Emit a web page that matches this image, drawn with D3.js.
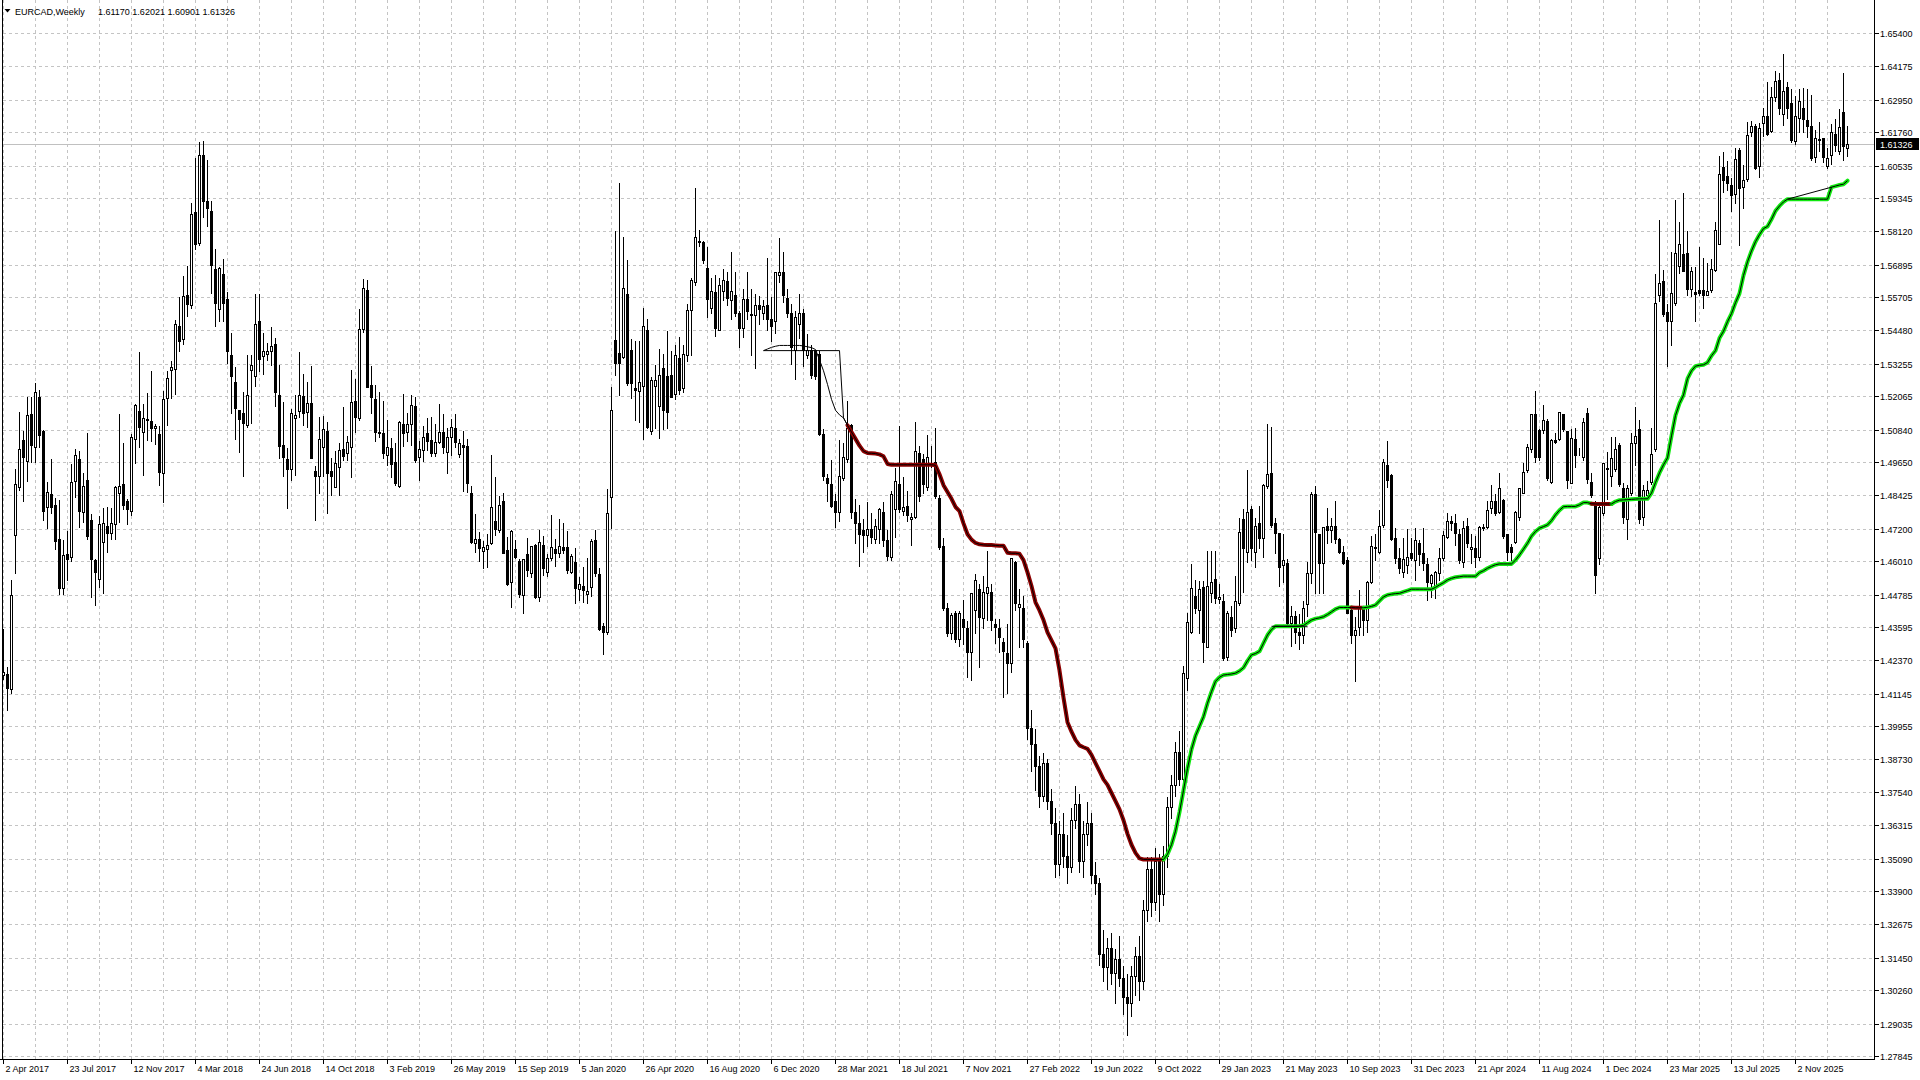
<!DOCTYPE html>
<html><head><meta charset="utf-8">
<script src="https://cdn.jsdelivr.net/npm/d3@7/dist/d3.min.js"></script>
<style>
html,body{margin:0;padding:0;background:#fff;overflow:hidden}
svg{display:block}
text{font-family:"Liberation Sans",Arial,sans-serif;font-size:9px;fill:#000}
</style>
</head><body>
<svg id="chart" width="1920" height="1080"></svg>
<script>
// ---------------- DATA ----------------
const symbolTitle = "EURCAD,Weekly";
const lastBarText = ["1.61170", "1.62021", "1.60901", "1.61326"];
const currentPrice = 1.61326;

const priceTicks = ["1.65400","1.64175","1.62950","1.61760","1.60535","1.59345","1.58120","1.56895","1.55705","1.54480","1.53255","1.52065","1.50840","1.49650","1.48425","1.47200","1.46010","1.44785","1.43595","1.42370","1.41145","1.39955","1.38730","1.37540","1.36315","1.35090","1.33900","1.32675","1.31450","1.30260","1.29035","1.27845"];

const dateTickBars = [0,16,32,48,64,80,96,112,128,144,160,176,192,208,224,240,256,272,288,304,320,336,352,368,384,400,416,432,448];
const dateTickLabels = ["2 Apr 2017","23 Jul 2017","12 Nov 2017","4 Mar 2018","24 Jun 2018","14 Oct 2018","3 Feb 2019","26 May 2019","15 Sep 2019","5 Jan 2020","26 Apr 2020","16 Aug 2020","6 Dec 2020","28 Mar 2021","18 Jul 2021","7 Nov 2021","27 Feb 2022","19 Jun 2022","9 Oct 2022","29 Jan 2023","21 May 2023","10 Sep 2023","31 Dec 2023","21 Apr 2024","11 Aug 2024","1 Dec 2024","23 Mar 2025","13 Jul 2025","2 Nov 2025"];

const openP = [
1.4185,1.4188,1.4132,1.4697,1.4873,1.5046,1.4969,1.5141,1.5020,1.5204,
1.5079,1.4800,1.4848,1.4807,1.4683,1.4503,1.4627,1.4616,1.4896,1.4976,
1.4782,1.4899,1.4752,1.4605,1.4536,1.4672,1.4730,1.4705,1.4738,1.4851,
1.4884,1.4822,1.4785,1.5050,1.5154,1.5074,1.5118,1.5116,1.5091,1.5067,
1.4926,1.5200,1.5302,1.5306,1.5463,1.5415,1.5577,1.5540,1.5882,1.5769,
1.6093,1.5924,1.5886,1.5674,1.5528,1.5657,1.5563,1.5358,1.5257,1.5155,
1.5144,1.5102,1.5302,1.5282,1.5481,1.5355,1.5362,1.5373,1.5400,1.5210,
1.5029,1.4976,1.4938,1.5127,1.5151,1.5207,1.5147,1.5182,1.4931,1.4915,
1.5021,1.5079,1.4932,1.4874,1.4948,1.5012,1.4997,1.5019,1.5189,1.5125,
1.5452,1.5597,1.5248,1.5195,1.5070,1.5070,1.4991,1.5015,1.4964,1.4877,
1.5103,1.5076,1.5105,1.5171,1.4982,1.5009,1.5070,1.5046,1.4997,1.5040,
1.5076,1.5003,1.5058,1.5089,1.4993,1.5026,1.5024,1.4850,1.4666,1.4681,
1.4640,1.4644,1.4669,1.4750,1.4716,1.4822,1.4642,1.4526,1.4644,1.4603,
1.4477,1.4626,1.4556,1.4660,1.4468,1.4660,1.4562,1.4612,1.4645,1.4630,
1.4652,1.4654,1.4562,1.4599,1.4498,1.4510,1.4480,1.4507,1.4679,1.4554,
1.4363,1.4342,1.4835,1.5413,1.5367,1.5352,1.5581,1.5376,1.5236,1.5227,
1.5244,1.5450,1.5079,1.5244,1.5172,1.5312,1.5279,1.5285,1.5213,1.5347,
1.5238,1.5357,1.5522,1.5625,1.5776,1.5773,1.5677,1.5532,1.5588,1.5450,
1.5594,1.5629,1.5559,1.5580,1.5512,1.5456,1.5563,1.5508,1.5506,1.5543,
1.5512,1.5543,1.5491,1.5481,1.5650,1.5662,1.5567,1.5512,1.5378,1.5471,
1.5512,1.5357,1.5378,1.5378,1.5361,1.5069,1.4908,1.4883,1.4822,1.4780,
1.4908,1.4976,1.5100,1.4780,1.4743,1.4714,1.4698,1.4718,1.4681,1.4718,
1.4780,1.4677,1.4616,1.4791,1.4883,1.4785,1.4805,1.4756,1.4764,1.4997,
1.4976,1.4873,1.4976,1.4966,1.4832,1.4657,1.4430,1.4337,1.4410,1.4317,
1.4389,1.4354,1.4269,1.4422,1.4498,1.4391,1.4483,1.4489,1.4370,1.4354,
1.4306,1.4263,1.4226,1.4599,1.4434,1.4428,1.4300,1.3990,1.3930,1.3850,
1.3740,1.3860,1.3720,1.3640,1.3490,1.3600,1.3520,1.3480,1.3650,1.3710,
1.3500,1.3600,1.3640,1.3450,1.3420,1.3160,1.3110,1.3180,1.3090,1.3140,
1.3070,1.3000,1.2980,1.3080,1.3150,1.3060,1.3320,1.3470,1.3350,1.3500,
1.3380,1.3520,1.3700,1.3780,1.3900,1.3800,1.4171,1.4342,1.4473,1.4420,
1.4507,1.4287,1.4483,1.4534,1.4461,1.4455,1.4250,1.4397,1.4355,1.4446,
1.4755,1.4636,1.4791,1.4636,1.4740,1.4685,1.4877,1.4923,1.4740,1.4703,
1.4587,1.4593,1.4373,1.4400,1.4340,1.4330,1.4445,1.4556,1.4848,1.4701,
1.4596,1.4730,1.4715,1.4731,1.4681,1.4636,1.4605,1.4420,1.4330,1.4360,
1.4428,1.4385,1.4526,1.4654,1.4636,1.4734,1.4954,1.4917,1.4685,1.4611,
1.4562,1.4587,1.4630,1.4605,1.4666,1.4630,1.4591,1.4520,1.4507,1.4559,
1.4611,1.4691,1.4750,1.4740,1.4701,1.4599,1.4730,1.4644,1.4648,1.4618,
1.4728,1.4725,1.4795,1.4823,1.4783,1.4826,1.4701,1.4654,1.4673,1.4762,
1.4852,1.4936,1.5012,1.5140,1.5083,1.5083,1.5117,1.4893,1.5046,1.5048,
1.5140,1.5080,1.4889,1.5048,1.4997,1.4985,1.5144,1.4893,1.4816,1.4611,
1.4777,1.4942,1.4912,1.4939,1.5027,1.4871,1.4756,1.4851,1.5034,1.5085,
1.4763,1.4844,1.4891,1.5014,1.5577,1.5631,1.5516,1.5482,1.5547,1.5686,
1.5730,1.5733,1.5601,1.5591,1.5596,1.5597,1.5580,1.5597,1.5669,1.5767,
1.6049,1.6014,1.5982,1.5950,1.6109,1.5974,1.6005,1.6175,1.6199,1.6053,
1.6209,1.6236,1.6182,1.6304,1.6368,1.6243,1.6340,1.6283,1.6145,1.6229,
1.6263,1.6222,1.6199,1.6086,1.6152,1.6154,1.6053,1.6093,1.6171,1.6107,
1.6250,1.6117];

const highP = [
1.4357,1.4217,1.4536,1.4943,1.5152,1.5083,1.5208,1.5208,1.5259,1.5233,
1.5086,1.4895,1.4980,1.4837,1.4829,1.4683,1.4716,1.4961,1.5017,1.5009,
1.4929,1.5075,1.4778,1.4613,1.4771,1.4800,1.4804,1.4800,1.4881,1.5145,
1.5039,1.4833,1.5072,1.5182,1.5372,1.5183,1.5222,1.5302,1.5109,1.5102,
1.5228,1.5302,1.5341,1.5491,1.5573,1.5650,1.5689,1.5920,1.6083,1.6142,
1.6149,1.6079,1.5928,1.5751,1.5684,1.5713,1.5594,1.5442,1.5316,1.5161,
1.5226,1.5362,1.5362,1.5585,1.5585,1.5442,1.5404,1.5465,1.5425,1.5324,
1.5189,1.5021,1.5165,1.5215,1.5372,1.5292,1.5264,1.5320,1.4955,1.5133,
1.5137,1.5117,1.4985,1.5009,1.5040,1.5171,1.5064,1.5305,1.5272,1.5529,
1.5639,1.5636,1.5321,1.5250,1.5226,1.5193,1.5122,1.5058,1.5040,1.5119,
1.5220,1.5150,1.5215,1.5209,1.5046,1.5101,1.5131,1.5134,1.5110,1.5181,
1.5146,1.5095,1.5125,1.5146,1.5052,1.5083,1.5052,1.4881,1.4777,1.4712,
1.4679,1.4703,1.4995,1.4914,1.4844,1.4856,1.4693,1.4718,1.4681,1.4612,
1.4612,1.4689,1.4660,1.4667,1.4718,1.4697,1.4630,1.4773,1.4685,1.4758,
1.4744,1.4715,1.4632,1.4652,1.4546,1.4583,1.4615,1.4685,1.4718,1.4581,
1.4379,1.4868,1.5244,1.5817,1.5994,1.5795,1.5709,1.5419,1.5413,1.5413,
1.5535,1.5493,1.5279,1.5326,1.5382,1.5367,1.5450,1.5378,1.5398,1.5429,
1.5398,1.5547,1.5646,1.5975,1.5821,1.5780,1.5759,1.5646,1.5656,1.5646,
1.5677,1.5666,1.5738,1.5666,1.5522,1.5604,1.5666,1.5604,1.5584,1.5580,
1.5563,1.5718,1.5573,1.5666,1.5790,1.5738,1.5604,1.5547,1.5522,1.5584,
1.5532,1.5440,1.5398,1.5378,1.5378,1.5089,1.4925,1.4976,1.4853,1.5048,
1.5038,1.5192,1.5110,1.4832,1.4811,1.4760,1.4822,1.4780,1.4760,1.4801,
1.4822,1.4718,1.4863,1.4945,1.5100,1.4914,1.4863,1.4780,1.5114,1.5028,
1.4997,1.5069,1.5028,1.5094,1.4846,1.4688,1.4451,1.4414,1.4420,1.4420,
1.4461,1.4385,1.4489,1.4556,1.4520,1.4550,1.4642,1.4520,1.4391,1.4391,
1.4324,1.4373,1.4617,1.4605,1.4501,1.4477,1.4312,1.4060,1.3990,1.3890,
1.3900,1.3880,1.3770,1.3700,1.3650,1.3680,1.3600,1.3700,1.3780,1.3750,
1.3650,1.3720,1.3680,1.3500,1.3440,1.3250,1.3220,1.3240,1.3180,1.3230,
1.3120,1.3090,1.3120,1.3190,1.3230,1.3360,1.3520,1.3520,1.3550,1.3530,
1.3560,1.3740,1.3820,1.3940,1.3980,1.4220,1.4416,1.4593,1.4534,1.4532,
1.4532,1.4642,1.4642,1.4642,1.4520,1.4485,1.4422,1.4440,1.4550,1.4764,
1.4795,1.4938,1.4807,1.4764,1.4807,1.4887,1.5109,1.5097,1.4764,1.4709,
1.4703,1.4611,1.4440,1.4420,1.4410,1.4460,1.4600,1.4860,1.4881,1.4703,
1.4730,1.4801,1.4764,1.4826,1.4691,1.4660,1.4620,1.4430,1.4400,1.4498,
1.4440,1.4532,1.4697,1.4703,1.4791,1.4979,1.5046,1.4923,1.4728,1.4654,
1.4691,1.4722,1.4691,1.4728,1.4681,1.4728,1.4618,1.4556,1.4569,1.4654,
1.4715,1.4783,1.4771,1.4777,1.4722,1.4752,1.4764,1.4703,1.4697,1.4734,
1.4740,1.4826,1.4884,1.4850,1.4930,1.4832,1.4703,1.4666,1.4789,1.4875,
1.4966,1.5034,1.5144,1.5229,1.5089,1.5178,1.5125,1.5052,1.5076,1.5150,
1.5144,1.5083,1.5089,1.5095,1.5021,1.5131,1.5168,1.4930,1.4826,1.4808,
1.4963,1.5007,1.5061,1.5061,1.5037,1.4891,1.4885,1.5075,1.5170,1.5122,
1.4885,1.4898,1.5095,1.5658,1.5856,1.5672,1.5550,1.5740,1.5930,1.5849,
1.5957,1.5815,1.5686,1.5686,1.5757,1.5716,1.5699,1.5713,1.5849,1.6093,
1.6107,1.6073,1.6012,1.6121,1.6121,1.6059,1.6218,1.6222,1.6209,1.6213,
1.6267,1.6362,1.6345,1.6406,1.6395,1.6467,1.6362,1.6338,1.6311,1.6338,
1.6340,1.6338,1.6317,1.6188,1.6216,1.6158,1.6121,1.6209,1.6229,1.6263,
1.6395,1.62021];

const lowP = [
1.4170,1.4055,1.4117,1.4558,1.4862,1.4822,1.4895,1.4965,1.4965,1.5020,
1.4752,1.4723,1.4778,1.4646,1.4481,1.4481,1.4532,1.4602,1.4837,1.4727,
1.4745,1.4683,1.4470,1.4441,1.4506,1.4484,1.4635,1.4683,1.4683,1.4745,
1.4793,1.4738,1.4771,1.4961,1.5020,1.4919,1.5046,1.5043,1.5032,1.4880,
1.4817,1.5102,1.5200,1.5215,1.5373,1.5397,1.5502,1.5531,1.5748,1.5762,
1.5864,1.5833,1.5587,1.5463,1.5481,1.5481,1.5330,1.5144,1.5049,1.5000,
1.4915,1.5095,1.5109,1.5243,1.5299,1.5288,1.5341,1.5320,1.5170,1.4978,
1.4915,1.4797,1.4898,1.4919,1.5130,1.5102,1.5095,1.4978,1.4751,1.4852,
1.4914,1.4777,1.4844,1.4874,1.4844,1.4972,1.4972,1.4911,1.5076,1.5119,
1.5443,1.5239,1.5146,1.5043,1.5058,1.4979,1.4954,1.4911,1.4881,1.4874,
1.5025,1.5043,1.5028,1.4966,1.4899,1.4970,1.5009,1.4987,1.4987,1.5034,
1.4997,1.4924,1.4991,1.5021,1.4982,1.4860,1.4856,1.4666,1.4636,1.4603,
1.4575,1.4578,1.4664,1.4697,1.4709,1.4630,1.4514,1.4432,1.4612,1.4468,
1.4412,1.4547,1.4542,1.4465,1.4456,1.4550,1.4547,1.4606,1.4583,1.4618,
1.4630,1.4556,1.4556,1.4448,1.4459,1.4452,1.4448,1.4473,1.4547,1.4349,
1.4260,1.4334,1.4722,1.5285,1.5211,1.5346,1.5248,1.5199,1.5119,1.5113,
1.5048,1.5089,1.5069,1.5089,1.5052,1.5085,1.5089,1.5203,1.5197,1.5213,
1.5223,1.5337,1.5357,1.5615,1.5759,1.5697,1.5497,1.5512,1.5429,1.5450,
1.5559,1.5543,1.5491,1.5501,1.5388,1.5423,1.5491,1.5357,1.5312,1.5471,
1.5491,1.5450,1.5409,1.5440,1.5625,1.5553,1.5497,1.5326,1.5271,1.5419,
1.5316,1.5347,1.5275,1.5271,1.5065,1.4900,1.4822,1.4801,1.4725,1.4750,
1.4898,1.4966,1.4760,1.4667,1.4585,1.4636,1.4657,1.4667,1.4667,1.4667,
1.4657,1.4605,1.4605,1.4688,1.4780,1.4770,1.4749,1.4661,1.4760,1.4822,
1.4852,1.4863,1.4945,1.4832,1.4647,1.4420,1.4327,1.4317,1.4306,1.4290,
1.4296,1.4177,1.4165,1.4336,1.4214,1.4354,1.4385,1.4348,1.4299,1.4269,
1.4104,1.4116,1.4195,1.4422,1.4287,1.4287,1.3950,1.3830,1.3760,1.3700,
1.3720,1.3690,1.3600,1.3440,1.3450,1.3480,1.3420,1.3460,1.3620,1.3460,
1.3440,1.3560,1.3420,1.3380,1.3120,1.3060,1.3030,1.3050,1.2980,1.3040,
1.2940,1.2860,1.2930,1.3010,1.2990,1.3030,1.3280,1.3300,1.3320,1.3280,
1.3340,1.3480,1.3660,1.3740,1.3780,1.3780,1.4128,1.4336,1.4409,1.4336,
1.4232,1.4287,1.4452,1.4446,1.4446,1.4238,1.4238,1.4326,1.4342,1.4440,
1.4489,1.4599,1.4605,1.4581,1.4648,1.4615,1.4868,1.4728,1.4630,1.4510,
1.4526,1.4367,1.4290,1.4300,1.4280,1.4300,1.4400,1.4520,1.4483,1.4483,
1.4483,1.4666,1.4673,1.4666,1.4630,1.4591,1.4410,1.4300,1.4160,1.4330,
1.4330,1.4340,1.4520,1.4605,1.4630,1.4728,1.4875,1.4679,1.4593,1.4556,
1.4544,1.4556,1.4605,1.4532,1.4587,1.4569,1.4459,1.4471,1.4465,1.4532,
1.4605,1.4685,1.4715,1.4660,1.4593,1.4581,1.4654,1.4593,1.4581,1.4605,
1.4715,1.4722,1.4777,1.4771,1.4777,1.4685,1.4605,1.4605,1.4666,1.4752,
1.4850,1.4930,1.5003,1.4966,1.4972,1.5070,1.4899,1.4887,1.5034,1.5046,
1.5080,1.4868,1.4887,1.4948,1.4991,1.4972,1.4887,1.4838,1.4483,1.4592,
1.4771,1.4830,1.4878,1.4932,1.4878,1.4742,1.4681,1.4844,1.4953,1.4742,
1.4735,1.4830,1.4885,1.5007,1.5557,1.5502,1.5319,1.5394,1.5543,1.5658,
1.5666,1.5577,1.5574,1.5482,1.5577,1.5530,1.5577,1.5591,1.5665,1.5764,
1.5957,1.5964,1.5887,1.5917,1.5761,1.5896,1.5998,1.6161,1.6039,1.6012,
1.6161,1.6164,1.6175,1.6290,1.6243,1.6202,1.6229,1.6141,1.6134,1.6175,
1.6175,1.6158,1.6073,1.6066,1.6107,1.6066,1.6046,1.6059,1.6107,1.6096,
1.6073,1.60901];

const closeP = [
1.4195,1.4135,1.4477,1.4884,1.5013,1.4984,1.5138,1.5028,1.5222,1.5064,
1.4785,1.4855,1.4800,1.4675,1.4503,1.4624,1.4609,1.4892,1.4991,1.4785,
1.4877,1.4694,1.4609,1.4562,1.4737,1.4741,1.4705,1.4741,1.4873,1.4877,
1.4807,1.4793,1.5057,1.5174,1.5095,1.5127,1.5124,1.5091,1.5099,1.4929,
1.5196,1.5273,1.5313,1.5470,1.5408,1.5573,1.5545,1.5875,1.5765,1.6093,
1.5924,1.5896,1.5688,1.5548,1.5678,1.5548,1.5372,1.5281,1.5162,1.5122,
1.5109,1.5210,1.5320,1.5470,1.5344,1.5373,1.5372,1.5390,1.5222,1.5025,
1.4983,1.4940,1.5144,1.5137,1.5210,1.5144,1.5182,1.4978,1.4912,1.5049,
1.5085,1.4926,1.4914,1.4960,1.5009,1.4987,1.5040,1.5184,1.5131,1.5452,
1.5603,1.5239,1.5205,1.5076,1.5076,1.4999,1.5021,1.4957,1.4887,1.5113,
1.5070,1.5105,1.5174,1.4972,1.5012,1.5058,1.5042,1.4999,1.5040,1.5076,
1.5021,1.5058,1.5095,1.5040,1.5034,1.5022,1.4889,1.4673,1.4681,1.4648,
1.4652,1.4660,1.4799,1.4718,1.4807,1.4632,1.4517,1.4713,1.4618,1.4481,
1.4608,1.4569,1.4657,1.4468,1.4673,1.4575,1.4612,1.4654,1.4630,1.4658,
1.4642,1.4569,1.4620,1.4501,1.4516,1.4495,1.4493,1.4676,1.4556,1.4351,
1.4342,1.4779,1.5156,1.5327,1.5327,1.5603,1.5254,1.5254,1.5230,1.5260,
1.5464,1.5095,1.5265,1.5265,1.5285,1.5155,1.5147,1.5203,1.5357,1.5230,
1.5361,1.5522,1.5635,1.5790,1.5773,1.5707,1.5563,1.5594,1.5456,1.5615,
1.5635,1.5567,1.5594,1.5512,1.5456,1.5563,1.5518,1.5506,1.5543,1.5528,
1.5538,1.5491,1.5464,1.5662,1.5662,1.5580,1.5512,1.5388,1.5497,1.5512,
1.5378,1.5378,1.5285,1.5279,1.5069,1.4914,1.4888,1.4805,1.4780,1.4914,
1.4982,1.5089,1.4780,1.4743,1.4702,1.4698,1.4718,1.4688,1.4729,1.4791,
1.4677,1.4620,1.4846,1.4894,1.4791,1.4801,1.4770,1.4764,1.5007,1.4842,
1.4883,1.4982,1.4976,1.4842,1.4653,1.4430,1.4337,1.4403,1.4317,1.4410,
1.4358,1.4269,1.4483,1.4532,1.4397,1.4489,1.4507,1.4385,1.4361,1.4321,
1.4272,1.4229,1.4611,1.4446,1.4444,1.4314,1.3990,1.3930,1.3850,1.3740,
1.3860,1.3720,1.3640,1.3490,1.3600,1.3520,1.3480,1.3650,1.3710,1.3500,
1.3600,1.3640,1.3450,1.3420,1.3160,1.3110,1.3180,1.3090,1.3140,1.3070,
1.3000,1.2980,1.3080,1.3150,1.3060,1.3320,1.3470,1.3350,1.3500,1.3380,
1.3520,1.3700,1.3780,1.3900,1.3800,1.4190,1.4377,1.4501,1.4428,1.4498,
1.4306,1.4510,1.4526,1.4465,1.4471,1.4244,1.4412,1.4348,1.4456,1.4709,
1.4648,1.4783,1.4648,1.4730,1.4685,1.4881,1.4920,1.4734,1.4703,1.4581,
1.4605,1.4373,1.4400,1.4340,1.4330,1.4430,1.4558,1.4848,1.4709,1.4596,
1.4725,1.4715,1.4731,1.4681,1.4636,1.4593,1.4410,1.4330,1.4350,1.4428,
1.4385,1.4526,1.4656,1.4648,1.4731,1.4966,1.4899,1.4681,1.4611,1.4575,
1.4608,1.4618,1.4611,1.4679,1.4627,1.4593,1.4526,1.4550,1.4562,1.4611,
1.4697,1.4749,1.4740,1.4703,1.4605,1.4722,1.4669,1.4654,1.4618,1.4728,
1.4722,1.4789,1.4823,1.4779,1.4868,1.4693,1.4636,1.4636,1.4783,1.4868,
1.4930,1.5021,1.5140,1.4985,1.4985,1.5119,1.4905,1.5046,1.5040,1.5147,
1.5085,1.4899,1.5052,1.4991,1.4997,1.5111,1.4901,1.4844,1.4550,1.4801,
1.4960,1.4940,1.4980,1.5014,1.4885,1.4763,1.4871,1.5034,1.5061,1.4756,
1.4864,1.4864,1.4995,1.5547,1.5621,1.5509,1.5482,1.5584,1.5733,1.5764,
1.5666,1.5601,1.5666,1.5583,1.5585,1.5577,1.5594,1.5675,1.5815,1.6022,
1.6000,1.5991,1.5944,1.6077,1.5971,1.6002,1.6164,1.6199,1.6046,1.6191,
1.6236,1.6168,1.6304,1.6365,1.6263,1.6327,1.6263,1.6148,1.6236,1.6290,
1.6225,1.6199,1.6080,1.6154,1.6148,1.6086,1.6082,1.6175,1.6130,1.6195,
1.6127,1.61326];

// trailing indicator (thick line), one value per bar starting at bar 211
const lineStartBar = 211;
const lineVals = [
1.5100,1.5075,1.5050,1.5025,1.5005,1.4998,1.4997,1.4996,1.4993,1.4986,
1.4958,1.4955,1.4955,1.4955,1.4955,1.4955,1.4955,1.4955,1.4955,1.4955,
1.4955,1.4955,1.4953,1.4920,1.4880,1.4855,1.4830,1.4800,1.4785,1.4740,
1.4700,1.4680,1.4668,1.4663,1.4661,1.4660,1.4660,1.4659,1.4658,1.4658,
1.4632,1.4630,1.4630,1.4628,1.4605,1.4560,1.4510,1.4450,1.4420,1.4385,
1.4340,1.4310,1.4281,1.4200,1.4100,1.4010,1.3975,1.3945,1.3925,1.3918,
1.3912,1.3890,1.3860,1.3830,1.3800,1.3780,1.3750,1.3720,1.3690,1.3650,
1.3600,1.3560,1.3530,1.3510,1.3506,1.3506,1.3506,1.3506,1.3506,1.3506,
1.3525,1.3560,1.3610,1.3680,1.3760,1.3840,1.3910,1.3960,1.3995,1.4030,
1.4080,1.4122,1.4160,1.4175,1.4183,1.4185,1.4187,1.4190,1.4198,1.4210,
1.4235,1.4257,1.4262,1.4270,1.4300,1.4330,1.4350,1.4362,1.4362,1.4362,
1.4362,1.4362,1.4362,1.4363,1.4365,1.4375,1.4385,1.4390,1.4393,1.4397,
1.4405,1.4415,1.4425,1.4431,1.4431,1.4431,1.4431,1.4430,1.4430,1.4430,
1.4432,1.4435,1.4440,1.4455,1.4470,1.4477,1.4480,1.4482,1.4483,1.4488,
1.4493,1.4498,1.4498,1.4498,1.4498,1.4498,1.4498,1.4505,1.4514,1.4522,
1.4532,1.4538,1.4542,1.4544,1.4546,1.4546,1.4546,1.4546,1.4559,1.4566,
1.4575,1.4582,1.4588,1.4591,1.4591,1.4591,1.4591,1.4605,1.4624,1.4645,
1.4667,1.4693,1.4710,1.4722,1.4728,1.4734,1.4750,1.4771,1.4788,1.4801,
1.4802,1.4802,1.4802,1.4808,1.4816,1.4816,1.4812,1.4811,1.4811,1.4811,
1.4811,1.4811,1.4820,1.4825,1.4826,1.4827,1.4828,1.4829,1.4830,1.4830,
1.4830,1.4851,1.4890,1.4925,1.4955,1.4980,1.5061,1.5136,1.5180,1.5211,
1.5271,1.5300,1.5317,1.5320,1.5322,1.5330,1.5355,1.5374,1.5420,1.5445,
1.5480,1.5510,1.5550,1.5584,1.5650,1.5700,1.5740,1.5774,1.5800,1.5822,
1.5830,1.5856,1.5887,1.5905,1.5920,1.5930,1.5930,1.5930,1.5930,1.5930,
1.5930,1.5930,1.5930,1.5930,1.5930,1.5930,1.5974,1.5978,1.5982,1.5985,
1.5998];

// trend direction ranges of the indicator (-1 down, +1 up)
const trendFrom = [211, 290, 337, 340, 397, 402];
const trendTo   = [290, 337, 340, 397, 402, 461];
const trendDir  = [-1, 1, -1, 1, -1, 1];

// thin black lines where they leave the thick line
const thinBars = [
  [190,191,192,193,194,195,196,197,198,199,200,201,202,203,204,205,206,207,208,209,210,211],
  [190,209,210,211],
  [317,326],
  [446,457]
];
const thinVals = [
  [1.5374,1.5380,1.5386,1.5390,1.5393,1.5393,1.5393,1.5393,1.5393,1.5393,1.5391,1.5388,1.5385,1.5378,1.5340,1.5300,1.5250,1.5195,1.5155,1.5138,1.5127,1.5100],
  [1.5374,1.5374,1.5127,1.5100],
  [1.4362,1.4362],
  [1.5930,1.5974]
];

// ---------------- DRAW ----------------
const W = 1920, H = 1080;
const plotRight = 1874.5, axisBottom = 1059.5;
const svg = d3.select("#chart");
const nBars = closeP.length;

const xs = d3.scaleLinear().domain([0, nBars - 1]).range([3.5, 3.5 + 4 * (nBars - 1)]);
const ys = d3.scaleLinear().domain([1.27845, 1.654]).range([1056, 33]);
const py = v => Math.round(ys(v)) + 0.5;

svg.append("rect").attr("width", W).attr("height", H).attr("fill", "#fff");

// grid
const grid = svg.append("g").attr("stroke", "#c4c4c4").attr("stroke-dasharray", "3,3")
  .attr("shape-rendering", "crispEdges").attr("stroke-width", 1);
grid.selectAll("line.v").data(d3.range(0, nBars, 8)).join("line")
  .attr("x1", d => xs(d)).attr("x2", d => xs(d)).attr("y1", 0).attr("y2", axisBottom);
grid.selectAll("line.h").data(priceTicks).join("line")
  .attr("x1", 3).attr("x2", plotRight).attr("y1", d => py(+d)).attr("y2", d => py(+d));

// current price line
svg.append("line").attr("x1", 3).attr("x2", plotRight)
  .attr("y1", py(currentPrice)).attr("y2", py(currentPrice))
  .attr("stroke", "#c0c0c0").attr("shape-rendering", "crispEdges");

// candles
const cg = svg.append("g").attr("shape-rendering", "crispEdges");
const idx = d3.range(nBars);
cg.selectAll("line.w").data(idx).join("line")
  .attr("x1", i => xs(i)).attr("x2", i => xs(i))
  .attr("y1", i => py(highP[i])).attr("y2", i => py(lowP[i]))
  .attr("stroke", "#000").attr("stroke-width", 1);
cg.selectAll("rect.b").data(idx).join("rect")
  .attr("x", i => xs(i) - 1)
  .attr("y", i => py(Math.max(openP[i], closeP[i])))
  .attr("width", 2)
  .attr("height", i => py(Math.min(openP[i], closeP[i])) - py(Math.max(openP[i], closeP[i])))
  .attr("fill", i => closeP[i] >= openP[i] ? "#fff" : "#000")
  .attr("stroke", "#000").attr("stroke-width", 1);

// indicator
const ind = svg.append("g");
const lineGen = d3.line().x(d => xs(d[0])).y(d => ys(d[1]));
const linePts = lineVals.map((v, k) => [lineStartBar + k, v]);
trendFrom.forEach((f, s) => {
  const pts = linePts.filter(p => p[0] >= f && p[0] <= trendTo[s]);
  ind.append("path").attr("d", lineGen(pts)).attr("fill", "none")
    .attr("stroke", trendDir[s] > 0 ? "#10e810" : "#8c0000")
    .attr("stroke-width", 4).attr("stroke-linejoin", "round").attr("stroke-linecap", "round");
});
ind.append("path").attr("d", lineGen(linePts)).attr("fill", "none")
  .attr("stroke", "#000").attr("stroke-width", 1);
thinBars.forEach((bars, s) => {
  ind.append("path").attr("d", lineGen(bars.map((b, k) => [b, thinVals[s][k]])))
    .attr("fill", "none").attr("stroke", "#000").attr("stroke-width", 1);
});

// frame / axes
const ax = svg.append("g").attr("shape-rendering", "crispEdges").attr("stroke", "#000");
ax.append("line").attr("x1", plotRight).attr("x2", plotRight).attr("y1", 0).attr("y2", axisBottom);
ax.append("line").attr("x1", 2.5).attr("x2", 2.5).attr("y1", 0).attr("y2", axisBottom);
ax.append("line").attr("x1", 0).attr("x2", plotRight).attr("y1", axisBottom).attr("y2", axisBottom);

// price axis
ax.selectAll("line.pt").data(priceTicks).join("line")
  .attr("x1", plotRight).attr("x2", plotRight + 4)
  .attr("y1", d => py(+d)).attr("y2", d => py(+d));
svg.append("g").selectAll("text").data(priceTicks).join("text")
  .attr("x", 1880).attr("y", d => py(+d) + 3.5).text(d => d);

// current price label
svg.append("rect").attr("x", 1876).attr("y", py(currentPrice) - 6.5)
  .attr("width", 43).attr("height", 12).attr("fill", "#000");
svg.append("text").attr("x", 1880).attr("y", py(currentPrice) + 3.5)
  .style("fill", "#fff").text(currentPrice.toFixed(5));

// date axis
ax.selectAll("line.dt").data(dateTickBars).join("line")
  .attr("x1", d => xs(d)).attr("x2", d => xs(d))
  .attr("y1", axisBottom).attr("y2", axisBottom + 4);
svg.append("g").selectAll("text").data(dateTickBars).join("text")
  .attr("x", d => xs(d) + 2).attr("y", 1072).text((d, k) => dateTickLabels[k]);

// header
svg.append("path").attr("d", "M4.5,9 L10.5,9 L7.5,12.5 Z").attr("fill", "#000");
svg.append("text").attr("x", 15).attr("y", 14.5).text(symbolTitle);
svg.append("text").attr("x", 98).attr("y", 14.5).text(lastBarText.join(" "));
</script>
</body></html>
